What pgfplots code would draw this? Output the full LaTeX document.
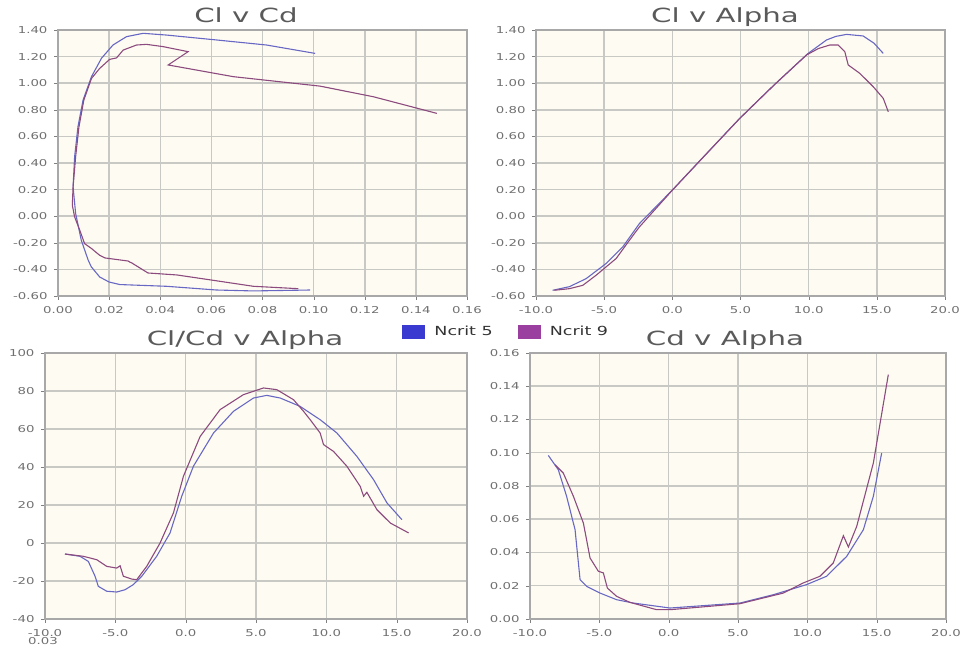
\documentclass[border=0pt]{standalone}
\usepackage{fontspec}
\setmainfont{DejaVu Sans}[FakeStretch=1.4]
\newfontfamily\titfont{DejaVu Sans}[FakeStretch=1.5]
\usepackage{pgfplots}
\pgfplotsset{compat=1.18}
\definecolor{bgc}{HTML}{FEFCF2}
\definecolor{gridc}{HTML}{C8C8C4}
\definecolor{framec}{HTML}{A8A8A8}
\definecolor{tickc}{HTML}{707070}
\definecolor{titc}{HTML}{5A5A5A}
\definecolor{ncb}{HTML}{6868C4}
\definecolor{ncp}{HTML}{8C4A7E}
\definecolor{legb}{HTML}{3A3AD0}
\definecolor{legp}{HTML}{9A3FA0}
\definecolor{legt}{HTML}{333333}
\pgfplotsset{
 panel/.style={
  scale only axis, anchor=south west,
  axis background/.style={fill=bgc},
  axis line style={draw=framec, line width=1.5pt},
  xmajorgrids=true, ymajorgrids=true,
  major grid style={draw=gridc, line width=1.5pt},
  tick pos=left, tick align=outside, major tick length=4pt,
  ticklabel style={font=\fontsize{9.5}{11}\selectfont, text=tickc},
  xticklabel style={yshift=-3pt},
  yticklabel style={xshift=-3pt},
 },
 alphax/.style={xmin=-10, xmax=20, xtick={-10,-5,0,5,10,15,20},
  xticklabels={-10.0,-5.0,0.0,5.0,10.0,15.0,20.0}},
 cly/.style={ymin=-0.6, ymax=1.4, ytick={-0.6,-0.4,-0.2,0,0.2,0.4,0.6,0.8,1.0,1.2,1.4},
  yticklabels={-0.60,-0.40,-0.20,0.00,0.20,0.40,0.60,0.80,1.00,1.20,1.40}},
 s5/.style={draw=ncb, line width=1.1pt, no marks},
 s9/.style={draw=ncp, line width=1.1pt, no marks},
}
\begin{document}
\begin{tikzpicture}
\useasboundingbox (0pt,0pt) rectangle (966pt,652pt);
% ---------- Cl v Cd ----------
\begin{axis}[panel, at={(58pt,356pt)}, width=409pt, height=266pt, cly,
 xmin=0, xmax=0.16, xtick={0,0.02,0.04,0.06,0.08,0.10,0.12,0.14,0.16},
 xticklabels={0.00,0.02,0.04,0.06,0.08,0.10,0.12,0.14,0.16}]
\addplot[s5] coordinates {
(0.0986,-0.555) (0.0764,-0.562) (0.0620,-0.555) (0.0424,-0.527) (0.0242,-0.514)
(0.0200,-0.495) (0.0163,-0.457) (0.0130,-0.38) (0.0118,-0.33) (0.0091,-0.18)
(0.0069,0.02) (0.0059,0.22) (0.0065,0.447) (0.0078,0.672) (0.0098,0.873)
(0.0131,1.049) (0.0170,1.187) (0.0215,1.287) (0.0268,1.35) (0.0333,1.375)
(0.0424,1.362) (0.0620,1.325) (0.0816,1.287) (0.1006,1.224)};
\addplot[s9] coordinates {
(0.0940,-0.545) (0.0764,-0.527) (0.0607,-0.482) (0.0466,-0.442) (0.0352,-0.427)
(0.0289,-0.352) (0.0281,-0.345) (0.0274,-0.337) (0.0184,-0.314) (0.0163,-0.294)
(0.0131,-0.243) (0.0104,-0.206) (0.0085,-0.105) (0.0065,-0.005) (0.0056,0.083)
(0.0059,0.22) (0.0069,0.447) (0.0082,0.672) (0.0101,0.873) (0.0131,1.036)
(0.0163,1.111) (0.0202,1.179) (0.0229,1.19) (0.0255,1.249) (0.0307,1.287)
(0.0346,1.292) (0.0411,1.275) (0.0509,1.237) (0.0431,1.137) (0.0686,1.049)
(0.1025,0.978) (0.1234,0.898) (0.1482,0.773)};
\end{axis}
% ---------- Cl v Alpha ----------
\begin{axis}[panel, at={(536pt,356pt)}, width=409pt, height=266pt, cly, alphax]
\addplot[s5] coordinates {
(-8.78,-0.557) (-7.55,-0.53) (-6.33,-0.47) (-4.86,-0.356) (-3.63,-0.23)
(-2.41,-0.055) (0.11,0.208) (2.5,0.47) (4.94,0.735) (7.5,0.99) (9.96,1.224)
(11.31,1.325) (12.0,1.352) (12.78,1.367) (14.0,1.355) (14.8,1.3) (15.47,1.224)};
\addplot[s9] coordinates {
(-8.65,-0.557) (-7.55,-0.545) (-6.57,-0.52) (-5.59,-0.444) (-4.12,-0.318)
(-3.14,-0.18) (-2.41,-0.08) (0.11,0.208) (4.94,0.735) (7.5,0.99) (9.84,1.212)
(10.7,1.26) (11.55,1.287) (12.16,1.287) (12.65,1.237) (12.9,1.137) (13.75,1.074)
(14.74,0.973) (15.47,0.886) (15.84,0.785)};
\end{axis}
% ---------- Cl/Cd v Alpha ----------
\begin{axis}[panel, at={(45pt,33pt)}, width=422pt, height=266pt, alphax,
 ymin=-40, ymax=100, ytick={-40,-20,0,20,40,60,80,100},
 yticklabels={-40,-20,0,20,40,60,80,100}]
\addplot[s5] coordinates {
(-8.58,-5.8) (-7.51,-7.0) (-6.92,-9.7) (-6.44,-17.5) (-6.21,-22.8) (-5.61,-25.4)
(-4.9,-25.8) (-4.31,-24.6) (-3.72,-21.9) (-3.12,-17.5) (-2.06,-7.0) (-1.11,5.3)
(-0.28,24.6) (0.55,40.4) (1.98,57.9) (3.4,69.3) (4.82,76.3) (5.77,77.7)
(6.72,76.3) (8.14,71.9) (9.56,64.9) (10.75,57.9) (12.17,45.6) (13.36,33.3)
(14.31,21.1) (15.37,12.3)};
\addplot[s9] coordinates {
(-8.58,-5.8) (-7.27,-7.0) (-6.32,-8.8) (-5.61,-12.3) (-4.9,-13.2) (-4.66,-12.0)
(-4.43,-17.5) (-3.83,-19.0) (-3.48,-19.3) (-2.77,-12.3) (-1.82,0.0) (-0.87,15.8)
(-0.16,35.1) (1.03,56.1) (2.45,70.2) (4.11,78.1) (5.53,81.6) (6.48,80.7)
(7.67,75.4) (8.38,69.3) (8.85,64.9) (9.56,57.9) (9.8,51.8) (10.51,48.2)
(11.46,40.4) (12.41,29.8) (12.65,24.6) (12.88,26.7) (13.6,17.5) (14.55,10.5)
(15.85,5.3)};
\end{axis}
% ---------- Cd v Alpha ----------
\begin{axis}[panel, at={(530pt,33pt)}, width=416pt, height=266pt, alphax,
 ymin=0, ymax=0.16, ytick={0,0.02,0.04,0.06,0.08,0.10,0.12,0.14,0.16},
 yticklabels={0.00,0.02,0.04,0.06,0.08,0.10,0.12,0.14,0.16},
 legend style={at={(rel axis cs:-0.057,1.079)}, anchor=center, draw=none, fill=none,
  font=\fontsize{12.5}{14}\selectfont, text=legt, legend columns=2, inner sep=0pt,
  /tikz/every odd column/.append style={column sep=7pt},
  /tikz/every even column/.append style={column sep=23pt}},
 legend image code/.code={\fill[#1] (0pt,-7pt) rectangle (23pt,7pt);}]
\addlegendimage{fill=legb, draw=none}
\addlegendentry{Ncrit 5}
\addlegendimage{fill=legp, draw=none}
\addlegendentry{Ncrit 9}
\addplot[s5, forget plot] coordinates {
(-8.68,0.0984) (-7.96,0.0898) (-7.36,0.0738) (-6.75,0.0537) (-6.39,0.0237)
(-5.91,0.0196) (-4.95,0.0156) (-3.75,0.0116) (-2.55,0.0096) (0.1,0.0066)
(5.14,0.0096) (7.55,0.0146) (9.95,0.0207) (11.39,0.0257) (12.84,0.0377)
(14.04,0.0537) (14.76,0.0738) (15.36,0.0998)};
\addplot[s9, forget plot] coordinates {
(-8.2,0.0928) (-7.6,0.0878) (-6.87,0.0738) (-6.15,0.0577) (-5.67,0.0367)
(-5.07,0.0287) (-4.71,0.0277) (-4.42,0.0186) (-3.75,0.0136) (-2.79,0.0100)
(-0.87,0.0056) (0.1,0.0056) (5.14,0.0092) (8.27,0.0156) (9.71,0.0217)
(10.91,0.0257) (11.87,0.0337) (12.6,0.0501) (12.96,0.0433) (13.56,0.0557)
(14.76,0.0938) (15.84,0.147)};
\end{axis}
% ---------- titles ----------
\begin{scope}[every node/.style={anchor=base, text=titc, font=\titfont\fontsize{19.5}{22}\selectfont}]
\node at (246pt,629pt) {Cl v Cd};
\node at (725pt,629pt) {Cl v Alpha};
\node at (245pt,306pt) {Cl/Cd v Alpha};
\node at (725pt,306pt) {Cd v Alpha};
\end{scope}
\node[anchor=base west, text=tickc, font=\fontsize{9.5}{11}\selectfont, inner sep=0pt] at (28pt,7pt) {0.03};
\end{tikzpicture}
\end{document}
